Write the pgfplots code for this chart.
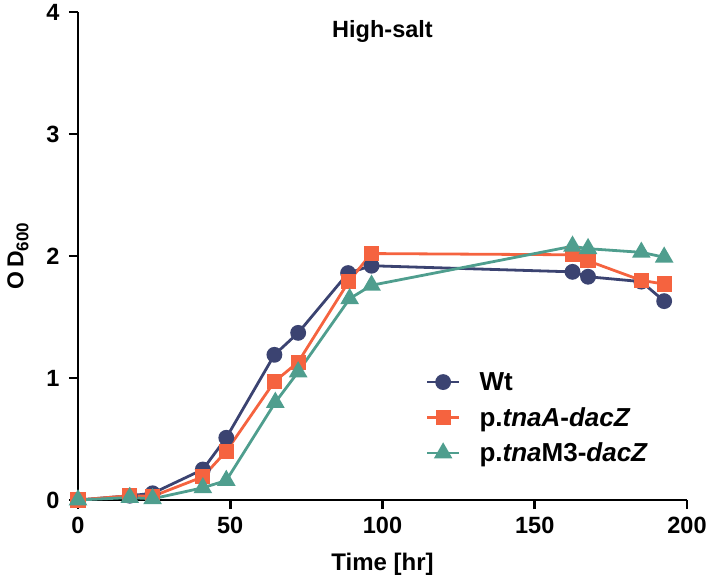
\documentclass[border=0pt]{standalone}
\usepackage{pgfplots}
\pgfplotsset{compat=1.18}
\usepackage{fontspec}
\setmainfont{Liberation Sans}
\definecolor{cwt}{HTML}{3B4371}
\definecolor{ctna}{HTML}{F5633F}
\definecolor{cm3}{HTML}{4F9E8E}
\begin{document}
\begin{tikzpicture}
\begin{axis}[
  scale only axis, width=609pt, height=488pt,
  xmin=0, xmax=200, ymin=0, ymax=4,
  axis x line*=bottom, axis y line*=left,
  axis line style={line width=2.8pt, -},
  xtick={0,50,100,150,200}, ytick={0,1,2,3,4},
  tick style={line width=2.8pt, black},
  tick align=outside, major tick length=9pt,
  every tick label/.append style={font=\fontsize{23.5}{26}\selectfont\bfseries},
  xticklabel style={yshift=-5pt},
  yticklabel style={xshift=-6pt},
  /pgf/number format/assume math mode=true,
  xlabel={Time [hr]}, ylabel={O\,D\raisebox{-5pt}{\fontsize{17}{20}\selectfont 600}},
  xlabel style={font=\fontsize{24}{26}\selectfont\bfseries, at={([yshift=-64pt]rel axis cs:0.5,0)}, anchor=center},
  ylabel style={font=\fontsize{23}{26}\selectfont\bfseries, at={([xshift=-60pt]rel axis cs:0,0.5)}, anchor=center},
  clip=false,
  legend style={draw=none, fill=none, inner sep=0pt, outer sep=0pt,
    font=\fontsize{26}{28}\selectfont\bfseries,
    at={(rel axis cs:0.571,0.278)}, anchor=north west, row sep=0pt, column sep=19pt,
    nodes={inner sep=0pt, minimum height=35.5pt}},
  legend cell align=left,
  legend image code/.code={\draw[#1] (-16pt,0pt) -- (16pt,0pt); \path[#1,mark repeat=2,mark phase=2] plot coordinates {(-16pt,0pt) (0pt,0pt) (16pt,0pt)};},
]
\addplot[color=cwt, line width=2.8pt, mark=*, mark size=6.5pt, mark options={solid}] coordinates {
(0,0) (17,0.035) (24.5,0.055) (41,0.25) (48.7,0.51) (64.5,1.19) (72.3,1.37) (88.7,1.86) (96.4,1.92) (162.4,1.87) (167.5,1.83) (185,1.79) (192.5,1.63)};
\addlegendentry{Wt}
\addplot[color=ctna, line width=2.8pt, mark=square*, mark size=6.2pt, mark options={solid}] coordinates {
(0,0) (17,0.035) (24.5,0.03) (41,0.19) (48.7,0.40) (64.5,0.97) (72.3,1.13) (88.9,1.79) (96.3,2.02) (162.4,2.01) (167.5,1.96) (185,1.80) (192.5,1.77)};
\addlegendentry{p.\textit{tnaA}-\textit{dacZ}}
\addplot[color=cm3, line width=2.8pt, mark=triangle*, mark size=8pt, mark options={solid}] coordinates {
(0,0) (17,0.02) (24.5,0.01) (41,0.10) (48.7,0.16) (64.8,0.80) (72.3,1.05) (89.2,1.65) (96.4,1.76) (162.4,2.08) (167.5,2.06) (185,2.03) (192.5,1.99)};
\addlegendentry{p.\textit{tna}M3-\textit{dacZ}}
\node[font=\fontsize{23.5}{26}\selectfont\bfseries, anchor=base] at (axis cs:100,3.787) {High-salt};
\end{axis}
\pgfresetboundingbox
\path[use as bounding box] (-78pt,-83pt) rectangle (631pt,500pt);
\end{tikzpicture}
\end{document}
